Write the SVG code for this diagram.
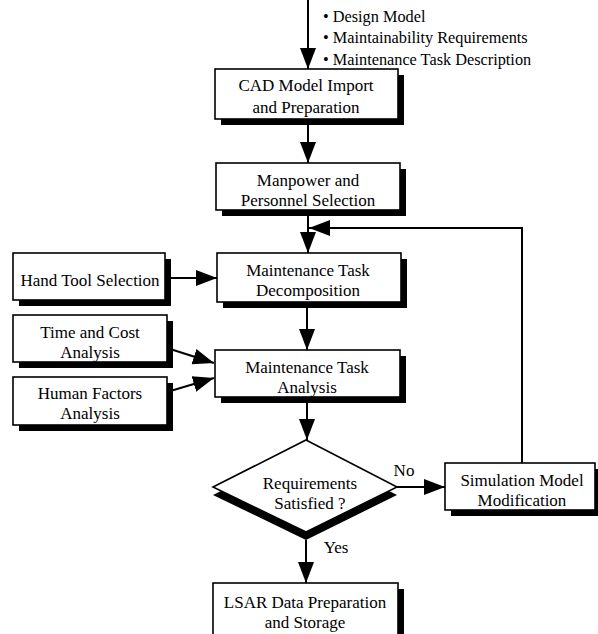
<svg xmlns="http://www.w3.org/2000/svg" width="598" height="634" viewBox="0 0 598 634">
<style>
.box{fill:#fff;stroke:#000;stroke-width:1.6}
.sh{fill:#000}
.t{font-family:"Liberation Serif","Times New Roman",serif;font-size:17px;fill:#000;text-anchor:middle}
.b{font-family:"Liberation Serif","Times New Roman",serif;font-size:16.3px;fill:#000}
.c{fill:none;stroke:#000;stroke-width:2}
</style>
<defs>
<marker id="ah" markerUnits="userSpaceOnUse" markerWidth="22" markerHeight="18" viewBox="0 0 22 18" refX="21" refY="9" orient="auto">
<path d="M0,1 L21,9 L0,17 Z" fill="#000"/>
</marker>
</defs>
<rect width="598" height="634" fill="#fff"/>

<g id="connectors">
<line class="c" x1="308" y1="0" x2="308" y2="69" marker-end="url(#ah)"/>
<line class="c" x1="308" y1="125" x2="308" y2="163" marker-end="url(#ah)"/>
<line class="c" x1="308" y1="216" x2="308" y2="253" marker-end="url(#ah)"/>
<line class="c" x1="165" y1="278" x2="217" y2="278" marker-end="url(#ah)"/>
<line class="c" x1="307" y1="308" x2="307" y2="350" marker-end="url(#ah)"/>
<line class="c" x1="167" y1="348" x2="214" y2="363" marker-end="url(#ah)"/>
<line class="c" x1="167" y1="392" x2="214" y2="378" marker-end="url(#ah)"/>
<line class="c" x1="307" y1="403" x2="307" y2="440" marker-end="url(#ah)"/>
<line class="c" x1="397" y1="487" x2="445" y2="487" marker-end="url(#ah)"/>
<line class="c" x1="306" y1="540" x2="306" y2="583" marker-end="url(#ah)"/>
<polyline class="c" points="522,463 522,228 309,228" marker-end="url(#ah)"/>
</g>

<g id="inputs">
<text class="b" x="323" y="22">• Design Model</text>
<text class="b" x="323" y="43">• Maintainability Requirements</text>
<text class="b" x="323" y="65">• Maintenance Task Description</text>
</g>

<g id="cad">
<rect class="sh" x="221" y="75" width="183" height="50"/>
<rect class="box" x="215" y="69" width="183" height="50"/>
<text class="t" x="306" y="91">CAD Model Import</text>
<text class="t" x="306" y="113">and Preparation</text>
</g>

<g id="manpower">
<rect class="sh" x="222" y="169" width="184" height="47"/>
<rect class="box" x="216" y="163" width="184" height="47"/>
<text class="t" x="308" y="186">Manpower and</text>
<text class="t" x="308" y="206">Personnel Selection</text>
</g>

<g id="handtool">
<rect class="sh" x="19" y="259" width="152" height="47"/>
<rect class="box" x="13" y="253" width="152" height="47"/>
<text class="t" x="90" y="286">Hand Tool Selection</text>
</g>

<g id="decomposition">
<rect class="sh" x="223" y="259" width="184" height="49"/>
<rect class="box" x="217" y="253" width="184" height="49"/>
<text class="t" x="308" y="276">Maintenance Task</text>
<text class="t" x="308" y="296">Decomposition</text>
</g>

<g id="timecost">
<rect class="sh" x="19" y="321" width="154" height="47"/>
<rect class="box" x="13" y="315" width="154" height="47"/>
<text class="t" x="90" y="338">Time and Cost</text>
<text class="t" x="90" y="358">Analysis</text>
</g>

<g id="humanfactors">
<rect class="sh" x="19" y="383" width="154" height="48"/>
<rect class="box" x="13" y="377" width="154" height="48"/>
<text class="t" x="90" y="399">Human Factors</text>
<text class="t" x="90" y="419">Analysis</text>
</g>

<g id="analysis">
<rect class="sh" x="221" y="356" width="185" height="47"/>
<rect class="box" x="215" y="350" width="185" height="47"/>
<text class="t" x="307" y="373">Maintenance Task</text>
<text class="t" x="307" y="393">Analysis</text>
</g>

<g id="decision">
<polygon class="sh" points="306,448 397,495 306,540 213,495"/>
<polygon class="box" points="306,440 397,487 306,532 213,487"/>
<text class="t" x="310" y="489">Requirements</text>
<text class="t" x="310" y="509">Satisfied ?</text>
<text class="t" x="404" y="476">No</text>
<text class="t" x="336" y="553">Yes</text>
</g>

<g id="simulation">
<rect class="sh" x="451" y="469" width="150" height="47"/>
<rect class="box" x="445" y="463" width="150" height="47"/>
<text class="t" x="522" y="486">Simulation Model</text>
<text class="t" x="522" y="506">Modification</text>
</g>

<g id="lsar">
<rect class="sh" x="219" y="589" width="185" height="60"/>
<rect class="box" x="213" y="583" width="185" height="60"/>
<text class="t" x="305" y="608">LSAR Data Preparation</text>
<text class="t" x="305" y="628">and Storage</text>
</g>
</svg>
